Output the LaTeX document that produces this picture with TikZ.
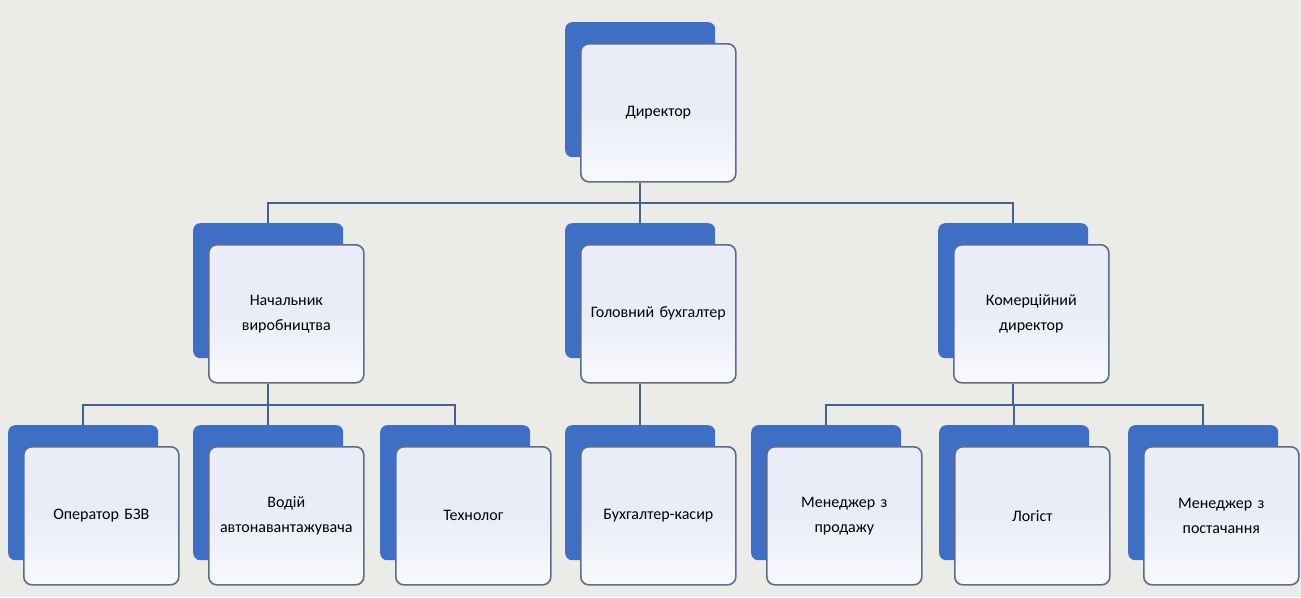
\documentclass[tikz,border=0pt]{standalone}
\usepackage{fontspec}
\setmainfont{Carlito}
\usepackage{tikz}
\usetikzlibrary{positioning, calc}
\usepackage{xcolor}
\definecolor{backblue}{RGB}{63,111,196}
\definecolor{frontfill}{RGB}{234,237,247}
\definecolor{frontline}{RGB}{92,108,138}
\definecolor{linkcol}{RGB}{70,98,140}
\definecolor{paper}{RGB}{235,235,231}

\begin{document}
\begin{tikzpicture}[x=1pt, y=-1pt,
    backbox/.style={fill=backblue, rounded corners=7pt, minimum width=150pt, minimum height=135pt, inner sep=0pt, anchor=north west},
    frontbox/.style={top color=frontfill, bottom color=white!70!frontfill, middle color=frontfill, draw=frontline, line width=1.6pt, rounded corners=8pt, minimum width=155pt, minimum height=138pt, inner sep=2pt, anchor=north west, align=center, text width=147pt, font=\fontsize{16}{25}\selectfont, text=black},
    link/.style={draw=linkcol, line width=1.8pt}]
    \fill[paper] (0,0) rectangle (1301,597);
    \useasboundingbox (0,0) rectangle (1301,597);

    % boxes: back plate, then front card
    \foreach \name/\x/\y/\txt in {dir/565/22/{Директор},
        nach/193/223/{Начальник\\виробництва},
        gol/565/223/{Головний бухгалтер},
        kom/938/223/{Комерційний\\директор},
        op/8/425/{Оператор БЗВ},
        vod/193/425/{Водій\\автонавантажувача},
        tech/380/425/{Технолог},
        kas/565/425/{Бухгалтер-касир},
        prod/751/425/{Менеджер з\\продажу},
        log/939/425/{Логіст},
        post/1128/425/{Менеджер з\\постачання}} {
        \node[backbox] (b-\name) at (\x,\y) {};
        \node[frontbox] (f-\name) at ($(\x,\y)+(15,21)$) {\txt};
    }

    % connectors, level 1 -> 2
    \coordinate (bus1) at (0,203);
    \draw[link] (b-dir.center |- f-dir.south) -- (b-dir.center |- bus1);
    \draw[link] (b-nach.north) -- (b-nach.center |- bus1) -- (b-kom.center |- bus1) -- (b-kom.north);
    \draw[link] (b-gol.north) -- (b-gol.center |- bus1);

    % connectors, level 2 -> 3
    \coordinate (bus2) at (0,405);
    \draw[link] (b-nach.center |- f-nach.south) -- (b-nach.center |- bus2);
    \draw[link] (b-op.north) -- (b-op.center |- bus2) -- (b-tech.center |- bus2) -- (b-tech.north);
    \draw[link] (b-vod.north) -- (b-vod.center |- bus2);
    \draw[link] (b-gol.center |- f-gol.south) -- (b-kas.north);
    \draw[link] (b-kom.center |- f-kom.south) -- (b-kom.center |- bus2);
    \draw[link] (b-prod.north) -- (b-prod.center |- bus2) -- (b-post.center |- bus2) -- (b-post.north);
    \draw[link] (b-log.north) -- (b-log.center |- bus2);
\end{tikzpicture}
\end{document}
